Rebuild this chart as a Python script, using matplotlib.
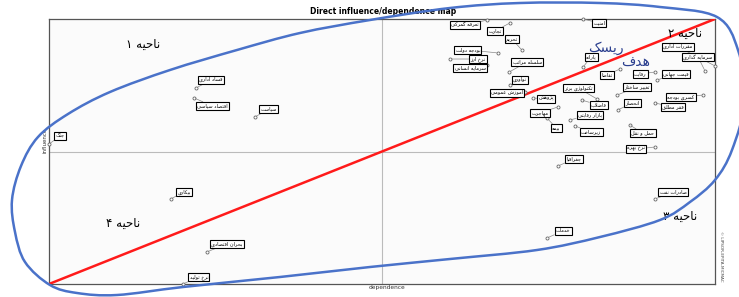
import numpy as np
import matplotlib
matplotlib.use("Agg")
import matplotlib.pyplot as plt
from matplotlib.path import Path
from matplotlib.patches import PathPatch

plt.rcParams['font.family'] = ['DejaVu Sans']

# variables: name, dependence, influence
names = ["تعرفه گمرکی", "تجارت", "تحریم", "بودجه دولت", "نرخ ارز", "سرمایه انسانی",
         "سلسله مراتب", "نوآوری", "آموزش عمومی", "پژوهش", "مهاجرت", "بیمه",
         "تکنولوژی برتر", "فاضلاب", "بازار رقابتی", "زیرساخت", "امنیت", "یارانه",
         "تقاضا", "رقابت", "قیمت جهانی", "تغییر ساختار", "کسری بودجه", "انحصار",
         "فقر مطلق", "حمل و نقل", "نرخ بهره", "مقررات اداری", "سرمایه گذاری",
         "فساد اداری", "اقتصاد سیاسی", "سیاست", "جنگ", "بیکاری", "بحران اقتصادی",
         "نرخ تولید", "جغرافیا", "صادرات نفت", "خدمات"]
dependence = [65.8, 69.2, 71.0, 67.4, 60.2, 65.8, 69.1, 69.2, 71.5, 72.7, 76.4, 74.8,
              82.3, 80.0, 78.2, 79.0, 80.2, 80.2, 85.7, 91.0, 91.3, 85.3, 98.2, 85.4,
              91.0, 87.2, 91.0, 100.0, 98.5, 22.1, 21.8, 30.9, 0.0, 18.3, 23.7,
              20.1, 76.4, 91.0, 74.8]
influence = [99.6, 98.5, 88.3, 87.2, 84.9, 82.6, 80.0, 75.1, 72.5, 70.2, 66.8, 62.6,
             69.8, 69.4, 61.9, 59.6, 100.0, 81.9, 81.1, 80.0, 77.0, 71.3, 71.3, 65.7,
             68.3, 60.0, 51.7, 82.3, 80.4, 74.0, 70.2, 63.0, 52.8, 32.1, 12.1,
             0.0, 44.5, 32.1, 17.4]
# label offsets (pixels)
offsets = [(-22, -5), (-15, -8), (-10, 11), (-30, 3), (28, 0), (-17, -3),
           (18, 10), (10, 5), (-18, -1), (13, -1), (-18, -6), (9, -10),
           (-19, 11), (17, -5), (20, 5), (16, -6), (16, -4), (8, 10),
           (-13, -6), (-15, -2), (19, 6), (20, 8), (-22, -2), (15, 7),
           (18, -4), (13, -8), (-19, -2), (-37, 19), (-7, 14),
           (15, 8), (18, -8), (14, 8), (11, 8), (13, 7), (20, 8),
           (16, 7), (16, 7), (18, 7), (16, 7)]

zones = ["ناحیه ۱", "ناحیه ۲", "ناحیه ۳", "ناحیه ۴"]

# hand-drawn blue outline, traced in figure pixels (annotation, not data)
blob_outline = [(12, 200), (21, 166), (38, 137), (68, 114), (110, 92), (170, 70), (237, 50),
                (300, 33), (370, 20), (450, 8), (520, 3), (600, 3), (660, 7),
                (717, 17), (738, 50), (745, 100), (732, 150), (715, 180), (690, 202),
                (660, 220), (600, 237), (537, 250), (450, 259), (370, 267), (280, 277),
                (183, 287), (117, 295), (77, 293), (50, 285), (25, 262), (15, 232)]

# persian shaping (matplotlib has no complex text layout)
FORMS = {
    'ا': (0xFE8D, 0xFE8E), 'آ': (0xFE81, 0xFE82), 'د': (0xFEA9, 0xFEAA),
    'ذ': (0xFEAB, 0xFEAC), 'ر': (0xFEAD, 0xFEAE), 'ز': (0xFEAF, 0xFEB0),
    'ژ': (0xFB8A, 0xFB8B), 'و': (0xFEED, 0xFEEE),
    'ب': (0xFE8F, 0xFE90, 0xFE91, 0xFE92), 'پ': (0xFB56, 0xFB57, 0xFB58, 0xFB59),
    'ت': (0xFE95, 0xFE96, 0xFE97, 0xFE98), 'ث': (0xFE99, 0xFE9A, 0xFE9B, 0xFE9C),
    'ج': (0xFE9D, 0xFE9E, 0xFE9F, 0xFEA0), 'چ': (0xFB7A, 0xFB7B, 0xFB7C, 0xFB7D),
    'ح': (0xFEA1, 0xFEA2, 0xFEA3, 0xFEA4), 'خ': (0xFEA5, 0xFEA6, 0xFEA7, 0xFEA8),
    'س': (0xFEB1, 0xFEB2, 0xFEB3, 0xFEB4), 'ش': (0xFEB5, 0xFEB6, 0xFEB7, 0xFEB8),
    'ص': (0xFEB9, 0xFEBA, 0xFEBB, 0xFEBC), 'ض': (0xFEBD, 0xFEBE, 0xFEBF, 0xFEC0),
    'ط': (0xFEC1, 0xFEC2, 0xFEC3, 0xFEC4), 'ظ': (0xFEC5, 0xFEC6, 0xFEC7, 0xFEC8),
    'ع': (0xFEC9, 0xFECA, 0xFECB, 0xFECC), 'غ': (0xFECD, 0xFECE, 0xFECF, 0xFED0),
    'ف': (0xFED1, 0xFED2, 0xFED3, 0xFED4), 'ق': (0xFED5, 0xFED6, 0xFED7, 0xFED8),
    'ک': (0xFB8E, 0xFB8F, 0xFB90, 0xFB91), 'گ': (0xFB92, 0xFB93, 0xFB94, 0xFB95),
    'ل': (0xFEDD, 0xFEDE, 0xFEDF, 0xFEE0), 'م': (0xFEE1, 0xFEE2, 0xFEE3, 0xFEE4),
    'ن': (0xFEE5, 0xFEE6, 0xFEE7, 0xFEE8), 'ه': (0xFEE9, 0xFEEA, 0xFEEB, 0xFEEC),
    'ی': (0xFBFC, 0xFBFD, 0xFBFE, 0xFBFF),
}


def fa(s):
    out = []
    i = 0
    n = len(s)
    while i < n:
        c = s[i]
        prev = s[i - 1] if i > 0 else None
        jp = prev in FORMS and len(FORMS[prev]) == 4
        if c == 'ل' and i + 1 < n and s[i + 1] in 'اآ':
            out.append(chr(0xFEFC if jp else 0xFEFB))
            i += 2
            continue
        if c not in FORMS:
            out.append(c)
            i += 1
            continue
        f = FORMS[c]
        nxt = s[i + 1] if i + 1 < n else None
        jn = len(f) == 4 and nxt in FORMS
        if jp and jn:
            g = f[3]
        elif jp:
            g = f[1]
        elif jn:
            g = f[2]
        else:
            g = f[0]
        out.append(chr(g))
        i += 1
    return ''.join(reversed(out))


def closed_spline(pts):
    # catmull-rom through the points, as cubic bezier segments
    p = np.array(pts, float)
    n = len(p)
    verts = [p[0]]
    codes = [Path.MOVETO]
    for i in range(n):
        p0, p1, p2, p3 = p[i - 1], p[i], p[(i + 1) % n], p[(i + 2) % n]
        verts += [p1 + (p2 - p0) / 6, p2 - (p3 - p1) / 6, p2]
        codes += [Path.CURVE4] * 3
    return Path(verts, codes)


W, H = 739, 297
fig = plt.figure(figsize=(W / 100, H / 100), dpi=100)
ax = fig.add_axes([49 / W, 1 - 284 / H, (715 - 49) / W, (284 - 19) / H])
ax.set_xlim(0, 100)
ax.set_ylim(0, 100)
ax.set_xticks([])
ax.set_yticks([])
for s in ax.spines.values():
    s.set_color('#555555')
    s.set_linewidth(0.9)
ax.set_facecolor('#fbfbfb')

ax.axvline(50, color='#bbbbbb', lw=0.8)
ax.axhline(50, color='#bbbbbb', lw=0.8)
ax.plot([0, 100], [0, 100], color='#ff1a1a', lw=1.8, zorder=3)

for nm, xd, yd, off in zip(names, dependence, influence, offsets):
    ax.plot(xd, yd, 'o', ms=2.2, mfc='white', mec='#666666', mew=0.6, clip_on=False, zorder=4)
    ax.annotate(fa(nm), (xd, yd), xytext=off, textcoords='offset pixels',
                fontsize=3.6, ha='center', va='center', zorder=5,
                bbox=dict(boxstyle='square,pad=0.25', fc='white', ec='black', lw=0.8),
                arrowprops=dict(arrowstyle='-', color='#888888', lw=0.5, shrinkA=0, shrinkB=1))

fig.text(383 / W, 1 - 11 / H, "Direct influence/dependence map", fontsize=5.5,
         fontweight='bold', ha='center', va='center')
fig.text(387 / W, 1 - 288 / H, "dependence", fontsize=4.2, ha='center', va='center', color='#333333')
fig.text(45 / W, 1 - 140 / H, "influence", fontsize=4, rotation=90, ha='center', va='center', color='#333333')
fig.text(721 / W, 1 - 256 / H, "© LIPSOR-EPITA-MICMAC", fontsize=3, rotation=270,
         ha='center', va='center', color='#444444')

zone_xy = [(143, 44), (685, 33), (680, 216), (123, 223)]
for z, (px, py) in zip(zones, zone_xy):
    fig.text(px / W, 1 - py / H, fa(z), fontsize=8.5, ha='center', va='center', color='black', zorder=6)
fig.text(606 / W, 1 - 48 / H, fa("ریسک"), fontsize=10, ha='center', va='center', color='#2b3f8f')
fig.text(636 / W, 1 - 62 / H, fa("هدف"), fontsize=10, ha='center', va='center', color='#2b3f8f')

# overlay in figure pixels for the blue outline
ov = fig.add_axes([0, 0, 1, 1], zorder=10)
ov.set_xlim(0, W)
ov.set_ylim(H, 0)
ov.axis('off')
ov.patch.set_alpha(0)
ov.add_patch(PathPatch(closed_spline(blob_outline), fill=False, ec='#4a72c9', lw=1.8))

fig.savefig("out.png", dpi=100)
